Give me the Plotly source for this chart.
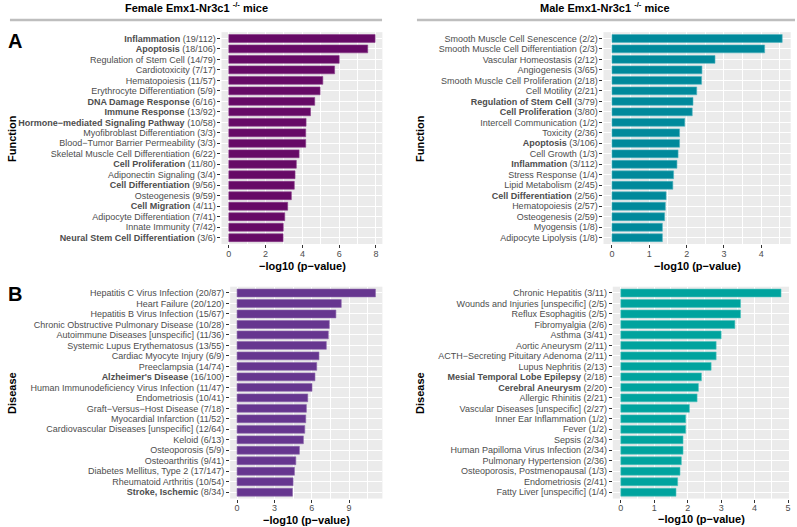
import plotly.graph_objects as go
from plotly.subplots import make_subplots

# Female, function
ff_names = ["Inflammation", "Apoptosis", "Regulation of Stem Cell", "Cardiotoxicity",
            "Hematopoiesis", "Erythrocyte Differentiation", "DNA Damage Response",
            "Immune Response", "Hormone−mediated Signaling Pathway",
            "Myofibroblast Differentiation", "Blood−Tumor Barrier Permeability",
            "Skeletal Muscle Cell Differentiation", "Cell Proliferation",
            "Adiponectin Signaling", "Cell Differentiation", "Osteogenesis",
            "Cell Migration", "Adipocyte Differentiation", "Innate Immunity",
            "Neural Stem Cell Differentiation"]
ff_counts = ["19/112", "18/106", "14/79", "7/17", "11/57", "5/9", "6/16", "13/92", "10/58",
             "3/3", "3/3", "6/22", "11/80", "3/4", "9/56", "9/59", "4/11", "7/41", "7/42", "3/6"]
ff_values = [7.95, 7.55, 6.0, 5.75, 5.11, 4.96, 4.67, 4.44, 4.2, 4.18, 4.18, 3.82,
             3.67, 3.6, 3.56, 3.4, 3.2, 3.04, 2.96, 2.95]
ff_bold = [1, 1, 0, 0, 0, 0, 1, 1, 1, 0, 0, 0, 1, 0, 1, 0, 1, 0, 0, 1]

# Male, function
mf_names = ["Smooth Muscle Cell Senescence", "Smooth Muscle Cell Differentiation",
            "Vascular Homeostasis", "Angiogenesis", "Smooth Muscle Cell Proliferation",
            "Cell Motility", "Regulation of Stem Cell", "Cell Proliferation",
            "Intercell Communication", "Toxicity", "Apoptosis", "Cell Growth",
            "Inflammation", "Stress Response", "Lipid Metabolism", "Cell Differentiation",
            "Hematopoiesis", "Osteogenesis", "Myogensis", "Adipocyte Lipolysis"]
mf_counts = ["2/2", "2/3", "2/12", "3/65", "2/18", "2/21", "3/79", "3/80", "1/2", "2/36",
             "3/106", "1/3", "3/112", "1/4", "2/45", "2/56", "2/57", "2/59", "1/8", "1/8"]
mf_values = [4.56, 4.09, 2.76, 2.41, 2.40, 2.27, 2.17, 2.15, 1.95, 1.81, 1.81, 1.77,
             1.74, 1.65, 1.63, 1.45, 1.43, 1.41, 1.35, 1.35]
mf_bold = [0, 0, 0, 0, 0, 0, 1, 1, 0, 0, 1, 0, 1, 0, 0, 1, 0, 0, 0, 0]

# Female, disease
fd_names = ["Hepatitis C Virus Infection", "Heart Failure", "Hepatitis B Virus Infection",
            "Chronic Obstructive Pulmonary Disease", "Autoimmune Diseases [unspecific]",
            "Systemic Lupus Erythematosus", "Cardiac Myocyte Injury", "Preeclampsia",
            "Alzheimer's Disease", "Human Immunodeficiency Virus Infection", "Endometriosis",
            "Graft−Versus−Host Disease", "Myocardial Infarction",
            "Cardiovascular Diseases [unspecific]", "Keloid", "Osteoporosis",
            "Osteoarthritis", "Diabetes Mellitus, Type 2", "Rheumatoid Arthritis",
            "Stroke, Ischemic"]
fd_counts = ["20/87", "20/120", "15/67", "10/28", "11/36", "13/55", "6/9", "14/74", "16/100",
             "11/47", "10/41", "7/18", "11/52", "12/64", "6/13", "5/9", "9/41", "17/147",
             "10/54", "8/34"]
fd_values = [11.12, 8.37, 7.94, 7.41, 7.33, 7.17, 6.58, 6.4, 6.26, 6.02, 5.68, 5.57,
             5.52, 5.44, 5.33, 5.01, 4.72, 4.61, 4.5, 4.45]
fd_bold = [0, 0, 0, 0, 0, 0, 0, 0, 1, 0, 0, 0, 0, 0, 0, 0, 0, 0, 0, 1]

# Male, disease
md_names = ["Chronic Hepatitis", "Wounds and Injuries [unspecific]", "Reflux Esophagitis",
            "Fibromyalgia", "Asthma", "Aortic Aneurysm", "ACTH−Secreting Pituitary Adenoma",
            "Lupus Nephritis", "Mesial Temporal Lobe Epilepsy", "Cerebral Aneurysm",
            "Allergic Rhinitis", "Vascular Diseases [unspecific]", "Inner Ear Inflammation",
            "Fever", "Sepsis", "Human Papilloma Virus Infection", "Pulmonary Hypertension",
            "Osteoporosis, Postmenopausal", "Endometriosis", "Fatty Liver [unspecific]"]
md_counts = ["3/11", "2/5", "2/5", "2/6", "3/41", "2/11", "2/11", "2/13", "2/18", "2/20",
             "2/21", "2/27", "1/2", "1/2", "2/34", "2/34", "2/36", "1/3", "2/41", "1/4"]
md_values = [4.79, 3.58, 3.58, 3.41, 3.0, 2.85, 2.85, 2.70, 2.41, 2.32, 2.28, 2.05,
             1.94, 1.94, 1.86, 1.86, 1.81, 1.77, 1.70, 1.65]
md_bold = [0, 0, 0, 0, 0, 0, 0, 0, 1, 1, 0, 0, 0, 0, 0, 0, 0, 0, 0, 0]

panels = [
    (ff_names, ff_counts, ff_values, ff_bold, "#660a66", "#8a3d8a", 2, 1, 1),
    (mf_names, mf_counts, mf_values, mf_bold, "#00899b", "#4fb3c0", 1, 1, 2),
    (fd_names, fd_counts, fd_values, fd_bold, "#66368f", "#8d68ad", 3, 2, 1),
    (md_names, md_counts, md_values, md_bold, "#00a39e", "#4fc2bd", 1, 2, 2),
]

fig = make_subplots(rows=2, cols=2)

domains = {
    (1, 1): ([0.2786, 0.4810], [0.537, 0.939]),
    (1, 2): ([0.7591, 0.9946], [0.537, 0.939]),
    (2, 1): ([0.2895, 0.4810], [0.054, 0.456]),
    (2, 2): ([0.7708, 0.9925], [0.054, 0.456]),
}

for names, counts, values, bold, color, edge, dtick, r, c in panels:
    ticktext = [(f"<b>{n}</b> ({k})" if b else f"{n} ({k})")
                for n, k, b in zip(names, counts, bold)]
    fig.add_trace(go.Bar(x=values, y=names, orientation="h", width=0.75,
                         marker=dict(color=color, line=dict(color=edge, width=0.6)),
                         showlegend=False), row=r, col=c)
    vmax = max(values)
    xd, yd = domains[(r, c)]
    fig.update_xaxes(domain=xd, range=[-0.05 * vmax, 1.05 * vmax], dtick=dtick,
                     showgrid=True, gridcolor="white", gridwidth=1, zeroline=False,
                     ticks="outside", ticklen=3, tickcolor="#333333",
                     ticklabelstandoff=-2,
                     tickfont=dict(size=9, color="#4d4d4d"),
                     minor=dict(dtick=dtick / 2, showgrid=True, gridcolor="white",
                                gridwidth=0.5),
                     row=r, col=c)
    fig.update_yaxes(domain=yd, type="category", categoryorder="array",
                     categoryarray=names, tickvals=names, ticktext=ticktext,
                     range=[len(names) - 0.4, -0.6], autorange=False,
                     showgrid=True, gridcolor="white", gridwidth=1, zeroline=False,
                     ticks="outside", ticklen=3, tickcolor="#333333",
                     tickfont=dict(size=9, color="#4d4d4d"),
                     row=r, col=c)

annotations = [
    dict(x=197, y=7, text="<b>Female Emx1-Nr3c1 <sup>-/-</sup> mice</b>", font_size=11),
    dict(x=607, y=7, text="<b>Male Emx1-Nr3c1 <sup>-/-</sup> mice</b>", font_size=11),
    dict(x=15, y=41, text="<b>A</b>", font_size=20),
    dict(x=15, y=294, text="<b>B</b>", font_size=20),
    dict(x=303, y=266, text="<b>−log10 (p−value)</b>", font_size=11),
    dict(x=699, y=266, text="<b>−log10 (p−value)</b>", font_size=11),
    dict(x=307, y=520, text="<b>−log10 (p−value)</b>", font_size=11),
    dict(x=703, y=519, text="<b>−log10 (p−value)</b>", font_size=11),
    dict(x=12, y=138, text="<b>Function</b>", font_size=11, textangle=-90),
    dict(x=421, y=138, text="<b>Function</b>", font_size=11, textangle=-90),
    dict(x=12, y=393, text="<b>Disease</b>", font_size=11, textangle=-90),
    dict(x=421, y=393, text="<b>Disease</b>", font_size=11, textangle=-90),
]
W, H = 797, 527
for a in annotations:
    fig.add_annotation(x=a["x"] / W, y=1 - a["y"] / H, xref="paper", yref="paper",
                       text=a["text"], showarrow=False, textangle=a.get("textangle", 0),
                       font=dict(size=a["font_size"], color="black"),
                       xanchor="center", yanchor="middle")

for x0, x1 in [(10, 383), (418, 797)]:
    fig.add_shape(type="line", xref="paper", yref="paper",
                  x0=x0 / W, x1=x1 / W, y0=1 - 20 / H, y1=1 - 20 / H,
                  line=dict(color="#bebebe", width=2.5))

fig.update_layout(width=W, height=H, margin=dict(l=0, r=0, t=0, b=0),
                  paper_bgcolor="white", plot_bgcolor="#ebebeb",
                  font=dict(family="Liberation Sans, Arial, sans-serif"),
                  bargap=0.25)

# page has a default 8px body margin, drop it so the figure fills the window
fig.write_html("out.html", config={"displayModeBar": False},
               post_script="document.body.style.margin = '0';")
